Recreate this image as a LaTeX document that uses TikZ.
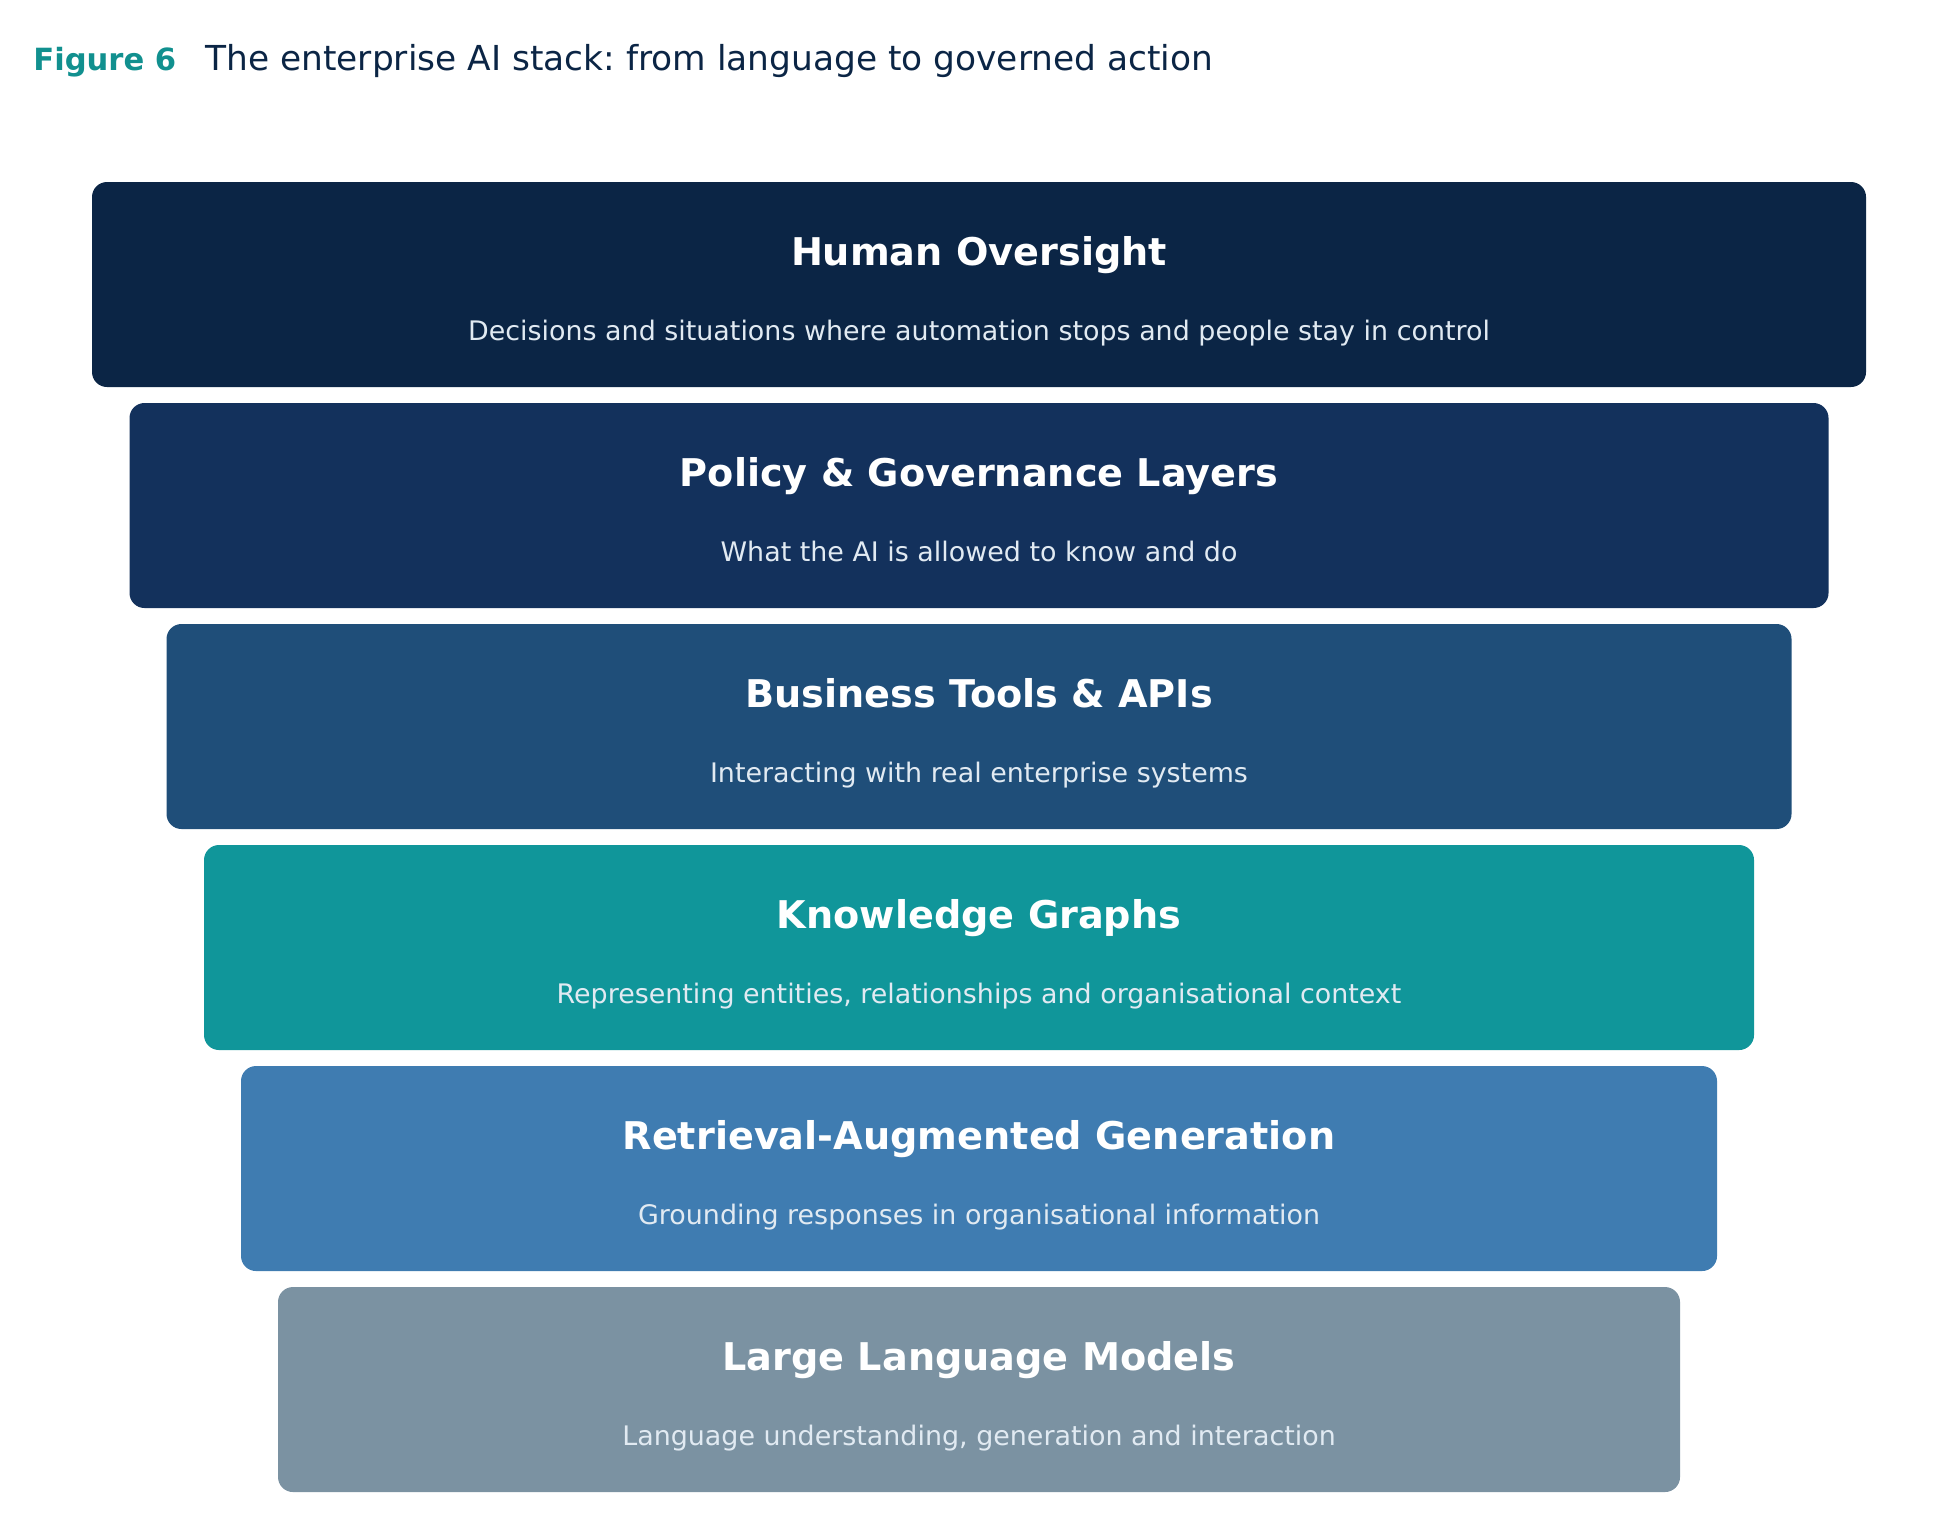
\documentclass[tikz,border=0pt]{standalone}
\usepackage{fontspec}
\setmainfont{DejaVu Sans}
\usetikzlibrary{positioning}

\definecolor{navy}{HTML}{0B2545}
\definecolor{policyblue}{HTML}{13315C}
\definecolor{toolsblue}{HTML}{1F4E79}
\definecolor{graphteal}{HTML}{10969A}
\definecolor{ragblue}{HTML}{3F7CB1}
\definecolor{llmgrey}{HTML}{7B92A2}
\definecolor{figteal}{HTML}{11908F}
\definecolor{subtext}{HTML}{E1EAF2}

\frenchspacing
\begin{document}
\begin{tikzpicture}[x=0.5pt, y=-0.5pt,
      layer/.style = {shape=rectangle, rounded corners=7.5pt,
        minimum height=102.5pt, inner sep=0pt, outer sep=0pt},
      head/.style = {anchor=base, text=white,
        font=\bfseries\fontsize{19.1}{23}\selectfont},
      sub/.style = {anchor=base, text=subtext,
        font=\fontsize{13.45}{16}\selectfont}]
  \useasboundingbox (0,0) rectangle (1957,1517);

  % caption
  \node[anchor=base west, inner sep=0pt, text=figteal,
    font=\bfseries\fontsize{15.3}{18}\selectfont] (figlabel) at (33,70) {Figure 6};
  \node[anchor=base west, inner sep=0pt, text=navy,
    font=\fontsize{17.2}{21}\selectfont] (figtitle) at (205,70)
    {The enterprise AI stack: from language to governed action};

  % the stack, top to bottom
  \node[layer, fill=navy, minimum width=887pt] (oversight) at (979,284.5) {};
  \node[layer, fill=policyblue, minimum width=849.5pt, below=8pt of oversight] (policy) {};
  \node[layer, fill=toolsblue, minimum width=812.5pt, below=8pt of policy] (tools) {};
  \node[layer, fill=graphteal, minimum width=775pt, below=8pt of tools] (graphs) {};
  \node[layer, fill=ragblue, minimum width=738pt, below=8pt of graphs] (rag) {};
  \node[layer, fill=llmgrey, minimum width=701pt, below=8pt of rag] (llm) {};

  % labels
  \node[head] (oversighthead) at ([yshift=-41.6pt]oversight.north) {Human Oversight};
  \node[sub] (oversightsub) at ([yshift=-79pt]oversight.north)
    {Decisions and situations where automation stops and people stay in control};
  \node[head] (policyhead) at ([yshift=-41.6pt]policy.north) {Policy \& Governance Layers};
  \node[sub] (policysub) at ([yshift=-79pt]policy.north) {What the AI is allowed to know and do};
  \node[head] (toolshead) at ([yshift=-41.6pt]tools.north) {Business Tools \& APIs};
  \node[sub] (toolssub) at ([yshift=-79pt]tools.north) {Interacting with real enterprise systems};
  \node[head] (graphshead) at ([yshift=-41.6pt]graphs.north) {Knowledge Graphs};
  \node[sub] (graphssub) at ([yshift=-79pt]graphs.north)
    {Representing entities, relationships and organisational context};
  \node[head] (raghead) at ([yshift=-41.6pt]rag.north) {Retrieval-Augmented Generation};
  \node[sub] (ragsub) at ([yshift=-79pt]rag.north) {Grounding responses in organisational information};
  \node[head] (llmhead) at ([yshift=-41.6pt]llm.north) {Large Language Models};
  \node[sub] (llmsub) at ([yshift=-79pt]llm.north) {Language understanding, generation and interaction};
\end{tikzpicture}
\end{document}
